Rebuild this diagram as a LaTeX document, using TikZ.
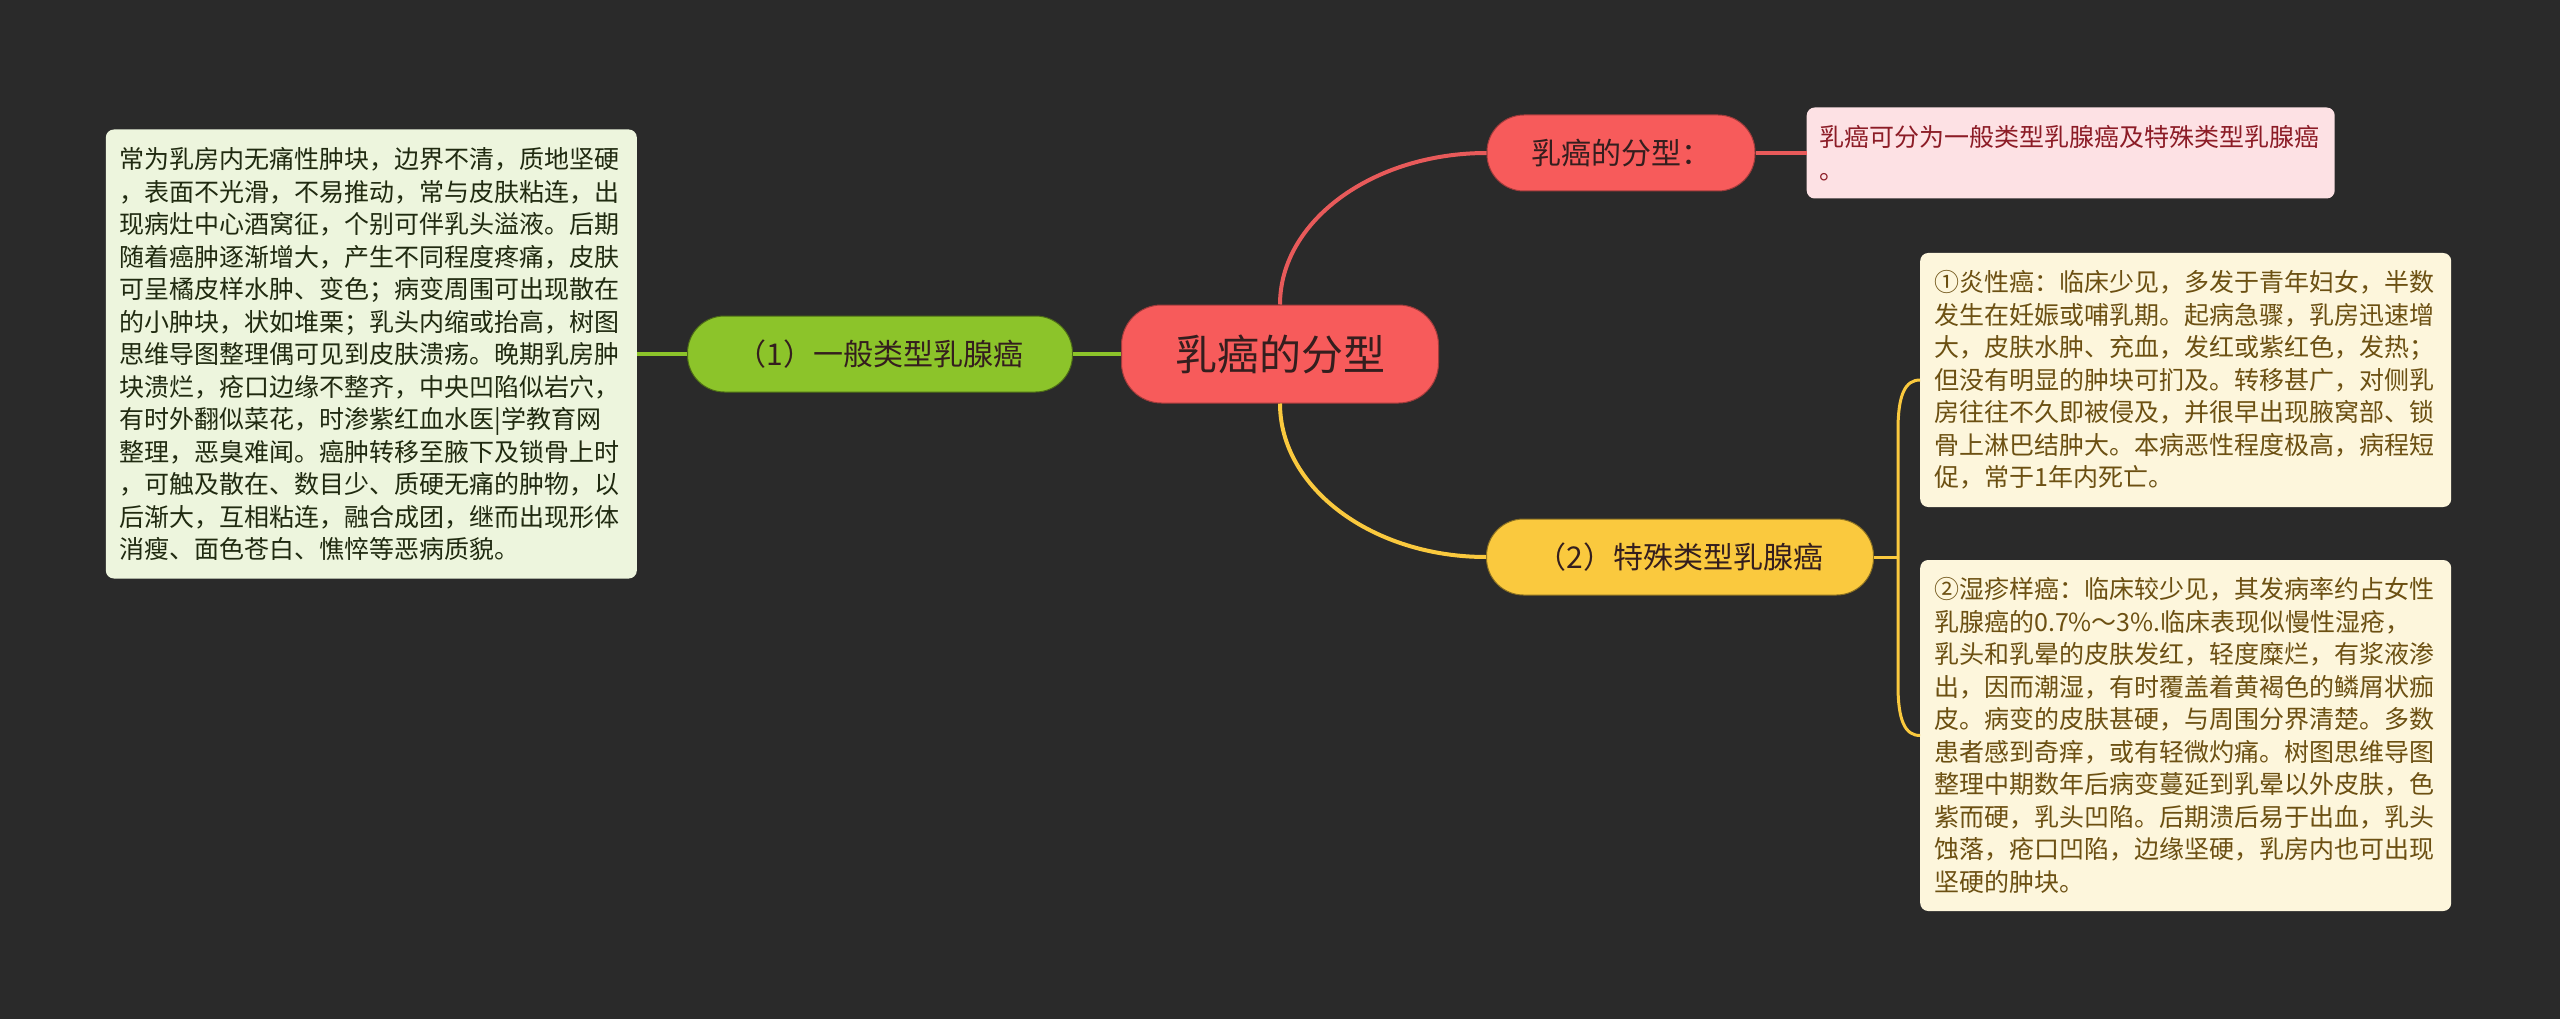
\documentclass[tikz,border=0pt]{standalone}
\usepackage{fontspec}
\newfontfamily\cjk{Noto Sans CJK SC}
\usepackage{tikz}
\usetikzlibrary{positioning,calc}
\usepackage{xcolor}
\definecolor{bgdark}{RGB}{42,42,42}
\definecolor{rootred}{RGB}{247,91,91}
\definecolor{linered}{RGB}{232,90,90}
\definecolor{leafgreen}{RGB}{140,196,42}
\definecolor{gold}{RGB}{250,201,62}
\definecolor{pinkfill}{RGB}{253,225,228}
\definecolor{pinkink}{RGB}{140,28,38}
\definecolor{creamfill}{RGB}{253,246,220}
\definecolor{creamink}{RGB}{108,80,18}
\definecolor{greenfill}{RGB}{237,245,221}
\definecolor{greenink}{RGB}{32,42,16}
\definecolor{nodeink}{RGB}{52,30,30}

\begin{document}
\begin{tikzpicture}[x=1pt,y=-1pt,font=\cjk]
\tikzset{
  rootnode/.style={draw=rootred!65!black,line width=1pt,fill=rootred,rounded corners=40pt,minimum width=317pt,minimum height=98pt,inner sep=0pt,text=nodeink,font=\cjk\fontsize{42}{50}\selectfont},
  topic/.style={line width=1pt,rounded corners=37pt,minimum height=76pt,inner sep=0pt,text=nodeink,font=\cjk\fontsize{30}{36}\selectfont},
  note/.style={rounded corners=8pt,align=left,inner xsep=14pt,inner ysep=0pt,text width=503pt,font=\cjk\fontsize{25}{32.5}\selectfont},
  link/.style={line width=4pt},
  fork/.style={line width=3pt,draw=gold}
}
\useasboundingbox (0,0) rectangle (2560,1019);
\fill[bgdark] (0,0) rectangle (2560,1019);

\node(root)[rootnode] at (1280,354){乳癌的分型};
\node(general)[topic,fill=leafgreen,draw=leafgreen!55!black,minimum width=385pt,left=48pt of root]{（1）一般类型乳腺癌};
\node(genbox)[note,fill=greenfill,text=greenink,minimum height=449pt,left=50pt of general]{常为乳房内无痛性肿块，边界不清，质地坚硬\\，表面不光滑，不易推动，常与皮肤粘连，出\\现病灶中心酒窝征，个别可伴乳头溢液。后期\\随着癌肿逐渐增大，产生不同程度疼痛，皮肤\\可呈橘皮样水肿、变色；病变周围可出现散在\\的小肿块，状如堆栗；乳头内缩或抬高，树图\\思维导图整理偶可见到皮肤溃疡。晚期乳房肿\\块溃烂，疮口边缘不整齐，中央凹陷似岩穴，\\有时外翻似菜花，时渗紫红血水医|学教育网\\整理，恶臭难闻。癌肿转移至腋下及锁骨上时\\，可触及散在、数目少、质硬无痛的肿物，以\\后渐大，互相粘连，融合成团，继而出现形体\\消瘦、面色苍白、憔悴等恶病质貌。};
\node(typelabel)[topic,fill=rootred,draw=rootred!65!black,minimum width=268pt] at (1621,153){乳癌的分型：};
\node(typebox)[note,fill=pinkfill,text=pinkink,minimum height=91pt,inner xsep=12.5pt,right=51pt of typelabel]{乳癌可分为一般类型乳腺癌及特殊类型乳腺癌\\。};
\node(special)[topic,fill=gold,draw=gold!55!black,minimum width=387pt] at (1680,557){（2）特殊类型乳腺癌};
\node(inflam)[note,fill=creamfill,text=creamink,minimum height=254pt,anchor=west] at (1920,380){①炎性癌：临床少见，多发于青年妇女，半数\\发生在妊娠或哺乳期。起病急骤，乳房迅速增\\大，皮肤水肿、充血，发红或紫红色，发热；\\但没有明显的肿块可扪及。转移甚广，对侧乳\\房往往不久即被侵及，并很早出现腋窝部、锁\\骨上淋巴结肿大。本病恶性程度极高，病程短\\促，常于1年内死亡。};
\node(eczema)[note,fill=creamfill,text=creamink,minimum height=351pt,anchor=west] at (1920,735.5){②湿疹样癌：临床较少见，其发病率约占女性\\乳腺癌的0.7\%～3\%.临床表现似慢性湿疮，\\乳头和乳晕的皮肤发红，轻度糜烂，有浆液渗\\出，因而潮湿，有时覆盖着黄褐色的鳞屑状痂\\皮。病变的皮肤甚硬，与周围分界清楚。多数\\患者感到奇痒，或有轻微灼痛。树图思维导图\\整理中期数年后病变蔓延到乳晕以外皮肤，色\\紫而硬，乳头凹陷。后期溃后易于出血，乳头\\蚀落，疮口凹陷，边缘坚硬，乳房内也可出现\\坚硬的肿块。};

\draw[link,draw=linered](root.north) .. controls +(0,-84) and +(-113,0) .. (typelabel.west);
\draw[link,draw=linered](typelabel.east)--(typebox.west);
\draw[link,draw=gold](root.south) .. controls +(0,85) and +(-113,0) .. (special.west);
\draw[link,draw=leafgreen](genbox.east)--(general.west);
\draw[link,draw=leafgreen](general.east)--(root.west);
\coordinate(split) at ($(special.east)+(24,0)$);
\draw[fork](special.east)--(split);
\draw[fork](split)--($(split|-inflam.west)+(0,50)$) .. controls +(0,-35) and +(-15,0) .. (inflam.west);
\draw[fork](split)--($(split|-eczema.west)+(0,-50)$) .. controls +(0,35) and +(-15,0) .. (eczema.west);
\end{tikzpicture}
\end{document}
